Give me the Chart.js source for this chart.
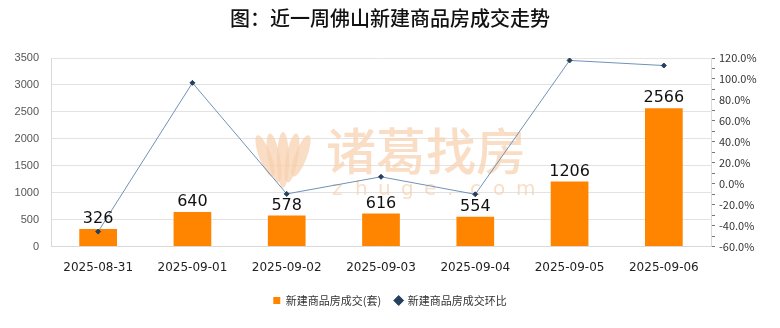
<!DOCTYPE html>
<html>
<head>
<meta charset="utf-8">
<script src="https://cdn.jsdelivr.net/npm/chart.js@4/dist/chart.umd.min.js"></script>
<style>
  html, body { margin: 0; padding: 0; background: #fff; }
  #wrap { width: 780px; height: 328px; }
</style>
</head>
<body>
<div id="wrap"><canvas id="chart" width="780" height="328"></canvas></div>
<script>
// données
const dates = ['2025-08-31', '2025-09-01', '2025-09-02', '2025-09-03', '2025-09-04', '2025-09-05', '2025-09-06'];
const dealCount = [326, 640, 578, 616, 554, 1206, 2566];
const changeRate = [-45.7, 96.3, -9.7, 6.6, -10.1, 117.7, 112.8];

const ORANGE = '#ff8400';
const LINE_BLUE = '#6f92b8';
const MARK = '#24405e';
const GRID = '#e3e3e3';
const CJK = '"Noto Sans CJK SC", "Noto Sans", sans-serif';

// filigrane "诸葛找房 zhuge.com" derrière les séries
const watermark = {
  id: 'watermark',
  beforeDatasetsDraw(chart) {
    const ctx = chart.ctx;
    ctx.save();
    ctx.fillStyle = 'rgba(246, 206, 172, 0.7)';
    // logo (pétales)
    const cx = 283, cy = 160;
    for (let i = -2; i <= 2; i++) {
      ctx.beginPath();
      ctx.ellipse(cx + i * 9, cy - Math.abs(i) * 2, 6, 28 - Math.abs(i) * 3, i * 0.18, 0, Math.PI * 2);
      ctx.fill();
    }
    ctx.font = '500 50px ' + CJK;
    ctx.textBaseline = 'middle';
    ctx.textAlign = 'left';
    ctx.fillText('诸葛找房', 326, 151);
    ctx.font = '20px "DejaVu Sans", sans-serif';
    const letters = 'zhuge.com'.split('');
    letters.forEach((c, i) => ctx.fillText(c, 332 + i * 23, 190));
    ctx.restore();
  }
};

// valeurs au-dessus des barres
const barValues = {
  id: 'barValues',
  afterDatasetsDraw(chart) {
    const ctx = chart.ctx;
    const meta = chart.getDatasetMeta(1);
    ctx.save();
    ctx.font = '16px "DejaVu Sans", sans-serif';
    ctx.fillStyle = '#111';
    ctx.textAlign = 'center';
    ctx.textBaseline = 'bottom';
    meta.data.forEach((bar, i) => {
      ctx.fillText(String(dealCount[i]), bar.x, bar.y - 2);
    });
    ctx.restore();
  }
};

new Chart(document.getElementById('chart'), {
  data: {
    labels: dates,
    datasets: [
      {
        type: 'line',
        label: '新建商品房成交环比',
        data: changeRate,
        yAxisID: 'y1',
        borderColor: LINE_BLUE,
        borderWidth: 1,
        pointStyle: 'rectRot',
        pointRadius: 2.5,
        pointBackgroundColor: MARK,
        pointBorderColor: MARK,
        tension: 0,
        order: 0
      },
      {
        type: 'bar',
        label: '新建商品房成交(套)',
        data: dealCount,
        yAxisID: 'y',
        backgroundColor: ORANGE,
        pointStyle: 'rect',
        categoryPercentage: 0.8,
        barPercentage: 0.5,
        order: 1
      }
    ]
  },
  options: {
    responsive: false,
    animation: false,
    layout: { padding: { top: 4, bottom: 12, left: 0, right: 0 } },
    plugins: {
      title: {
        display: true,
        text: '图：近一周佛山新建商品房成交走势',
        color: '#111',
        font: { family: CJK, size: 20, weight: '500' },
        padding: { top: 2, bottom: 28 }
      },
      legend: {
        position: 'bottom',
        reverse: true,
        labels: {
          usePointStyle: true,
          boxWidth: 7,
          boxHeight: 7,
          color: '#333',
          font: { family: CJK, size: 11 },
          padding: 14
        }
      },
      tooltip: { enabled: false }
    },
    scales: {
      x: {
        grid: { display: false },
        border: { display: true, color: '#d9d9d9' },
        ticks: { color: '#222', font: { family: '"DejaVu Sans", sans-serif', size: 12 }, padding: 6, maxRotation: 0 }
      },
      y: {
        position: 'left',
        min: 0,
        max: 3500,
        afterFit(scale) { scale.width = 51; },
        grid: { color: GRID, drawTicks: false },
        border: { display: true, color: '#d9d9d9' },
        ticks: {
          stepSize: 500,
          color: '#555',
          font: { family: '"Liberation Sans", sans-serif', size: 11 },
          padding: 12,
          callback: v => String(v)
        }
      },
      y1: {
        position: 'right',
        min: -60,
        max: 120,
        afterFit(scale) { scale.width = 69; },
        grid: { drawOnChartArea: false, color: '#777', tickLength: 4 },
        border: { display: true, color: '#d9d9d9' },
        ticks: {
          stepSize: 10,
          color: '#333',
          font: { family: CJK, size: 11 },
          padding: 4,
          autoSkip: false,
          callback: v => (v % 20 === 0 ? v.toFixed(1) + '%' : '')
        }
      }
    }
  },
  plugins: [watermark, barValues]
});
</script>
</body>
</html>
